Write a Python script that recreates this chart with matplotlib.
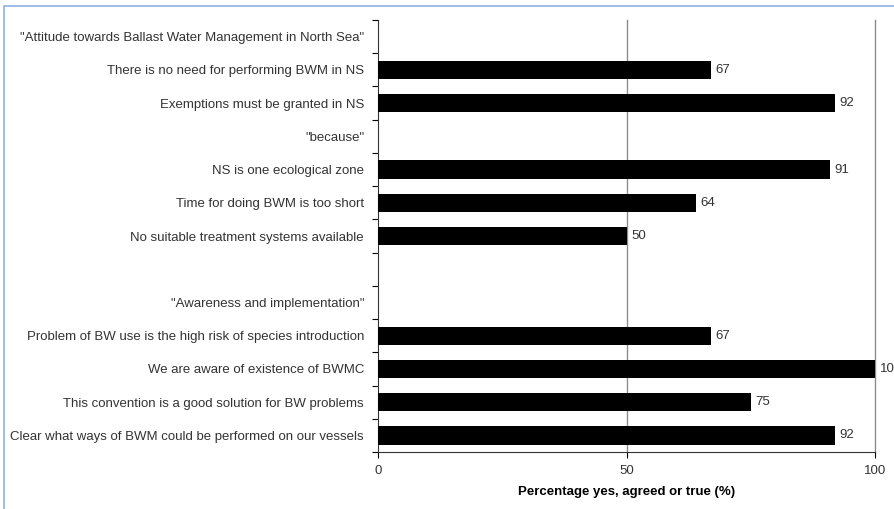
import numpy as np
import matplotlib.pyplot as plt
from matplotlib.patches import Rectangle

labels = [
    '"Attitude towards Ballast Water Management in North Sea"',
    "There is no need for performing BWM in NS",
    "Exemptions must be granted in NS",
    '"because"',
    "NS is one ecological zone",
    "Time for doing BWM is too short",
    "No suitable treatment systems available",
    "",
    '"Awareness and implementation"',
    "Problem of BW use is the high risk of species introduction",
    "We are aware of existence of BWMC",
    "This convention is a good solution for BW problems",
    "Clear what ways of BWM could be performed on our vessels",
]
values = [None, 67, 92, None, 91, 64, 50, None, None, 67, 100, 75, 92]
xticks = [0, 50, 100]

plt.rcParams['font.family'] = ['Liberation Sans', 'DejaVu Sans']

fig = plt.figure(figsize=(8.94, 5.09), dpi=100)
ax = fig.add_axes([378 / 894, 1 - 452 / 509, (875 - 378) / 894, (452 - 20) / 509])

n = len(labels)
y = np.arange(n)
for yi, v in zip(y, values):
    if v is None:
        continue
    ax.barh(yi, v, height=0.55, color="black", zorder=3)
    ax.text(v + 0.9, yi, f"{v}", va="center", ha="left", fontsize=9.5, color="#333333", zorder=4)

ax.set_ylim(n - 0.5, -0.5)
ax.set_xlim(0, 100)
ax.set_yticks(y)
ax.set_yticklabels(labels, fontsize=9.5, color="#333333")
ax.set_yticks(np.arange(n + 1) - 0.5, minor=True)
ax.tick_params(axis="y", which="major", length=0, pad=10)
ax.tick_params(axis="y", which="minor", length=4, direction="out", width=0.8)

ax.set_xticks(xticks)
ax.set_xticklabels([str(t) for t in xticks], fontsize=9.5, color="#333333")
ax.tick_params(axis="x", length=4, width=0.8, pad=5)
for t in xticks[1:]:
    ax.axvline(t, color="#8c8c8c", lw=1.0, zorder=1, clip_on=False)

ax.set_xlabel("Percentage yes, agreed or true (%)", fontsize=9.5, fontweight="bold", labelpad=7)

for s in ["top", "right"]:
    ax.spines[s].set_visible(False)
ax.spines["left"].set_color("#333333")
ax.spines["bottom"].set_color("#333333")

fig.patches.append(Rectangle((4 / 894, -0.1), 1.2, 1 - 6 / 509 + 0.1, transform=fig.transFigure,
                             fill=False, edgecolor="#8fb2de", lw=1.2, zorder=0))

fig.savefig("out.png", dpi=100)
